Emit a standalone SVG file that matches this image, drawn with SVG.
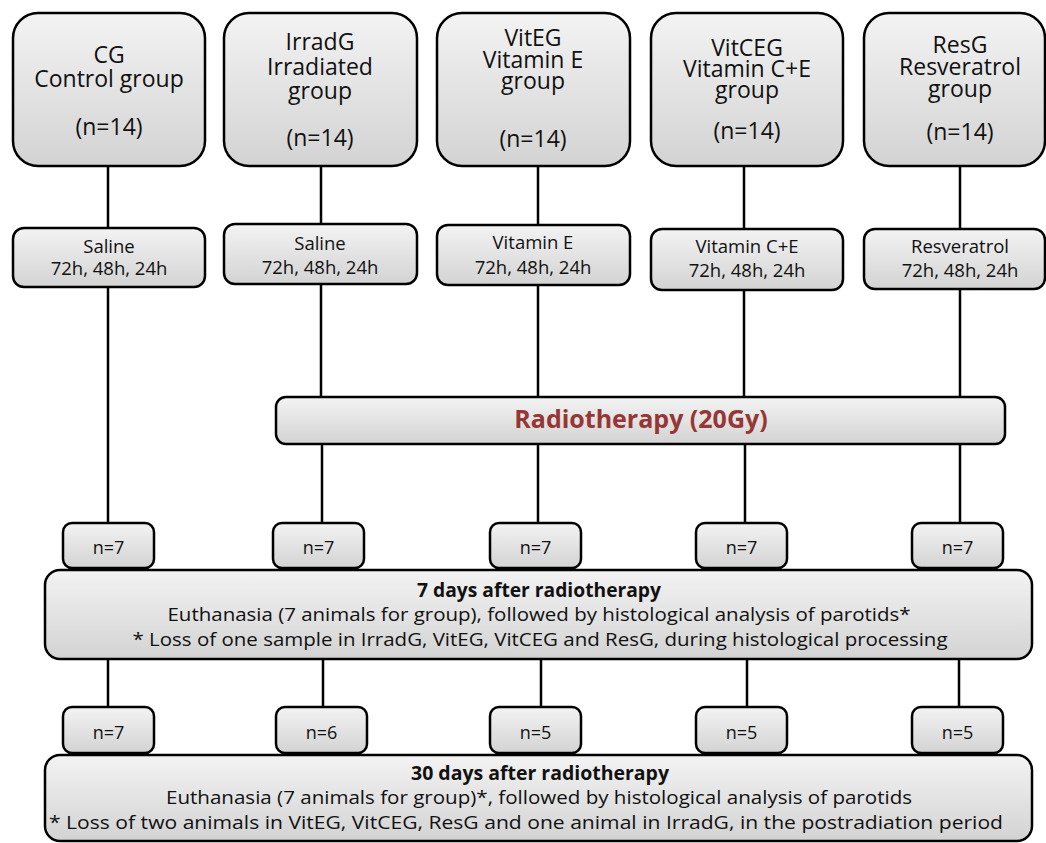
<svg xmlns="http://www.w3.org/2000/svg" width="1046" height="843" viewBox="0 0 1046 843">
<defs>
<linearGradient id="g" x1="0" y1="0" x2="0" y2="1">
<stop offset="0" stop-color="#f3f3f3"/>
<stop offset="1" stop-color="#d3d3d3"/>
</linearGradient>
</defs>
<style>
.b{fill:url(#g);stroke:#000;stroke-width:2.5}
.t{font-family:"Open Sans","Liberation Sans",sans-serif;fill:#111;text-anchor:middle}
.lg{font-size:23px}
.md{font-size:18.5px}
.sm{font-size:18px}
.xs{font-size:18.7px}
.bd{font-weight:bold}
.rt{font-size:25px;font-weight:bold;fill:#953735}
.c{stroke:#000;stroke-width:2.5;fill:none}
</style>
<rect width="1046" height="843" fill="#fff"/>
<g id="connectors">
<path class="c" d="M108 166V228M108 287V523M108 659V707"/>
<path class="c" d="M321 166V224M321 284V397M322 444V523M323 659V707"/>
<path class="c" d="M538 166V225M538 285V397M538 444V523M541 659V707"/>
<path class="c" d="M744 166V229M744 290V397M745 444V523M747 659V707"/>
<path class="c" d="M960 166V229M960 289V397M960 444V523M959 659V707"/>
</g>
<g id="cg">
<rect class="b" x="13" y="13" width="192" height="153" rx="25"/>
<text class="t lg" x="109" y="63">CG</text>
<text class="t lg" x="109" y="87">Control group</text>
<text class="t lg" x="109" y="135">(n=14)</text>
</g>
<g id="irradg">
<rect class="b" x="224" y="13" width="193" height="153" rx="25"/>
<text class="t lg" x="320" y="50">IrradG</text>
<text class="t lg" x="320" y="75">Irradiated</text>
<text class="t lg" x="320" y="99">group</text>
<text class="t lg" x="320" y="146">(n=14)</text>
</g>
<g id="viteg">
<rect class="b" x="437" y="13" width="193" height="153" rx="25"/>
<text class="t lg" x="533" y="46">VitEG</text>
<text class="t lg" x="533" y="68">Vitamin E</text>
<text class="t lg" x="533" y="89">group</text>
<text class="t lg" x="533" y="147">(n=14)</text>
</g>
<g id="vitceg">
<rect class="b" x="651" y="13" width="192" height="153" rx="25"/>
<text class="t lg" x="747" y="56">VitCEG</text>
<text class="t lg" x="747" y="77">Vitamin C+E</text>
<text class="t lg" x="747" y="98">group</text>
<text class="t lg" x="747" y="139">(n=14)</text>
</g>
<g id="resg">
<rect class="b" x="864" y="13" width="181" height="153" rx="25"/>
<text class="t lg" x="960" y="53">ResG</text>
<text class="t lg" x="960" y="75">Resveratrol</text>
<text class="t lg" x="960" y="97">group</text>
<text class="t lg" x="960" y="140">(n=14)</text>
</g>
<g id="cg-treat">
<rect class="b" x="13" y="228" width="192" height="59" rx="11"/>
<text class="t md" x="109" y="253">Saline</text>
<text class="t md" x="109" y="275">72h, 48h, 24h</text>
</g>
<g id="irradg-treat">
<rect class="b" x="224" y="224" width="193" height="60" rx="11"/>
<text class="t md" x="320" y="250">Saline</text>
<text class="t md" x="320" y="274">72h, 48h, 24h</text>
</g>
<g id="viteg-treat">
<rect class="b" x="437" y="225" width="193" height="60" rx="11"/>
<text class="t md" x="533" y="249">Vitamin E</text>
<text class="t md" x="533" y="274">72h, 48h, 24h</text>
</g>
<g id="vitceg-treat">
<rect class="b" x="651" y="229" width="192" height="61" rx="11"/>
<text class="t md" x="747" y="253">Vitamin C+E</text>
<text class="t md" x="747" y="277">72h, 48h, 24h</text>
</g>
<g id="resg-treat">
<rect class="b" x="864" y="229" width="181" height="60" rx="11"/>
<text class="t md" x="960" y="253">Resveratrol</text>
<text class="t md" x="960" y="277">72h, 48h, 24h</text>
</g>
<g id="radiotherapy">
<rect class="b" x="276" y="397" width="729" height="47" rx="10"/>
<text class="t rt" x="641" y="428">Radiotherapy (20Gy)</text>
</g>
<g id="n7-cg"><rect class="b" x="63" y="523" width="91" height="45" rx="9"/><text class="t sm" x="108.5" y="554">n=7</text></g>
<g id="n7-irradg"><rect class="b" x="273" y="523" width="91" height="45" rx="9"/><text class="t sm" x="318.5" y="554">n=7</text></g>
<g id="n7-viteg"><rect class="b" x="490" y="523" width="91" height="45" rx="9"/><text class="t sm" x="535.5" y="554">n=7</text></g>
<g id="n7-vitceg"><rect class="b" x="696" y="523" width="91" height="45" rx="9"/><text class="t sm" x="741.5" y="554">n=7</text></g>
<g id="n7-resg"><rect class="b" x="912" y="523" width="91" height="45" rx="9"/><text class="t sm" x="957.5" y="554">n=7</text></g>
<g id="day7">
<rect class="b" x="45" y="570" width="987" height="89" rx="15"/>
<text class="t xs bd" x="539" y="597" textLength="244" lengthAdjust="spacingAndGlyphs">7 days after radiotherapy</text>
<text class="t xs" x="539" y="621" textLength="743" lengthAdjust="spacingAndGlyphs">Euthanasia (7 animals for group), followed by histological analysis of parotids*</text>
<text class="t xs" x="540" y="646" textLength="815" lengthAdjust="spacingAndGlyphs">* Loss of one sample in IrradG, VitEG, VitCEG and ResG, during histological processing</text>
</g>
<g id="n30-cg"><rect class="b" x="63" y="707" width="91" height="46" rx="9"/><text class="t sm" x="108.5" y="739">n=7</text></g>
<g id="n30-irradg"><rect class="b" x="276" y="707" width="91" height="46" rx="9"/><text class="t sm" x="321.5" y="739">n=6</text></g>
<g id="n30-viteg"><rect class="b" x="490" y="707" width="91" height="46" rx="9"/><text class="t sm" x="535.5" y="739">n=5</text></g>
<g id="n30-vitceg"><rect class="b" x="696" y="707" width="91" height="46" rx="9"/><text class="t sm" x="741.5" y="739">n=5</text></g>
<g id="n30-resg"><rect class="b" x="912" y="707" width="91" height="46" rx="9"/><text class="t sm" x="957.5" y="739">n=5</text></g>
<g id="day30">
<rect class="b" x="45" y="755" width="987" height="86" rx="15"/>
<text class="t xs bd" x="540" y="780" textLength="258" lengthAdjust="spacingAndGlyphs">30 days after radiotherapy</text>
<text class="t xs" x="539" y="804" textLength="746" lengthAdjust="spacingAndGlyphs">Euthanasia (7 animals for group)*, followed by histological analysis of parotids</text>
<text class="t xs" x="526" y="829" textLength="954" lengthAdjust="spacingAndGlyphs">* Loss of two animals in VitEG, VitCEG, ResG and one animal in IrradG, in the postradiation period</text>
</g>
</svg>
